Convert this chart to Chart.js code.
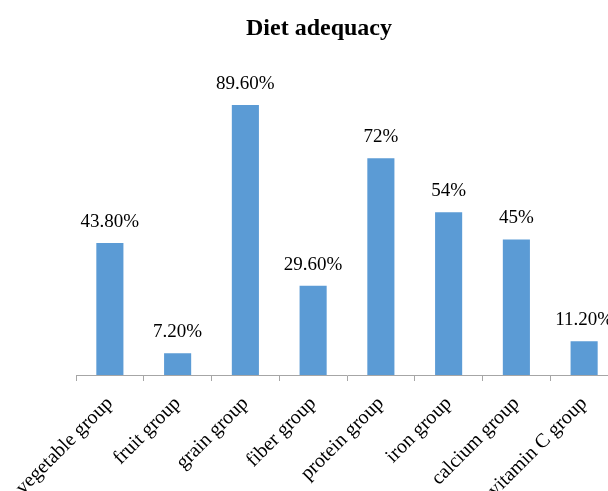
<!DOCTYPE html>
<html>
<head>
<meta charset="utf-8">
<script src="https://cdn.jsdelivr.net/npm/chart.js@4.4.0/dist/chart.umd.min.js"></script>
<style>
  html, body { margin: 0; padding: 0; background: #fff; overflow: hidden; }
  #wrap { width: 608px; height: 491px; overflow: hidden; position: relative; }
  canvas { position: absolute; left: 0; top: 0; }
</style>
</head>
<body>
<div id="wrap">
  <canvas id="diet-chart" width="640" height="491"></canvas>
</div>
<script>
  // dữ liệu biểu đồ
  const categories = [
    "vegetable group",
    "fruit group",
    "grain group",
    "fiber group",
    "protein group",
    "iron group",
    "calcium group",
    "vitamin C group",
  ];
  const adequacyValues = [43.8, 7.2, 89.6, 29.6, 72, 54, 45, 11.2];
  const valueLabels = ["43.80%", "7.20%", "89.60%", "29.60%", "72%", "54%", "45%", "11.20%"];

  const serif = "'Liberation Serif', 'DejaVu Serif', serif";

  // vẽ nhãn giá trị phía trên cột
  const valueLabelPlugin = {
    id: "valueLabels",
    afterDatasetsDraw(chart) {
      const ctx = chart.ctx;
      const meta = chart.getDatasetMeta(0);
      ctx.save();
      ctx.font = "19px " + serif;
      ctx.fillStyle = "#000";
      ctx.textAlign = "center";
      ctx.textBaseline = "alphabetic";
      meta.data.forEach((bar, i) => {
        ctx.fillText(valueLabels[i], bar.x, bar.y - 16);
      });
      ctx.restore();
    },
  };

  new Chart(document.getElementById("diet-chart"), {
    type: "bar",
    data: {
      labels: categories,
      datasets: [
        {
          label: "Diet adequacy",
          data: adequacyValues,
          backgroundColor: "#5B9BD5",
          borderWidth: 0,
          barPercentage: 0.4,
          categoryPercentage: 1,
        },
      ],
    },
    options: {
      responsive: false,
      animation: false,
      layout: {
        padding: { left: 20, right: 22, top: 0, bottom: 0 },
      },
      plugins: {
        legend: { display: false },
        tooltip: { enabled: false },
        title: {
          display: true,
          text: "Diet adequacy",
          color: "#000",
          font: { family: serif, size: 24, weight: "bold" },
          padding: { top: 14, bottom: 31 },
        },
      },
      scales: {
        x: {
          grid: {
            display: true,
            drawOnChartArea: false,
            drawTicks: true,
            tickLength: 6,
            color: "#a6a6a6",
            offset: true,
          },
          border: { display: true, color: "#a6a6a6", width: 1 },
          ticks: {
            color: "#000",
            font: { family: serif, size: 20 },
            minRotation: 45,
            maxRotation: 45,
            autoSkip: false,
            padding: 11,
          },
          afterFit(scale) {
            scale.height = 116;
            scale.paddingLeft = 0;
            scale.paddingRight = 0;
          },
        },
        y: {
          min: 0,
          max: 100,
          grid: { display: false },
          border: { display: false },
          ticks: { display: false },
          afterFit(scale) {
            scale.width = 56;
          },
        },
      },
    },
    plugins: [valueLabelPlugin],
  });
</script>
</body>
</html>
